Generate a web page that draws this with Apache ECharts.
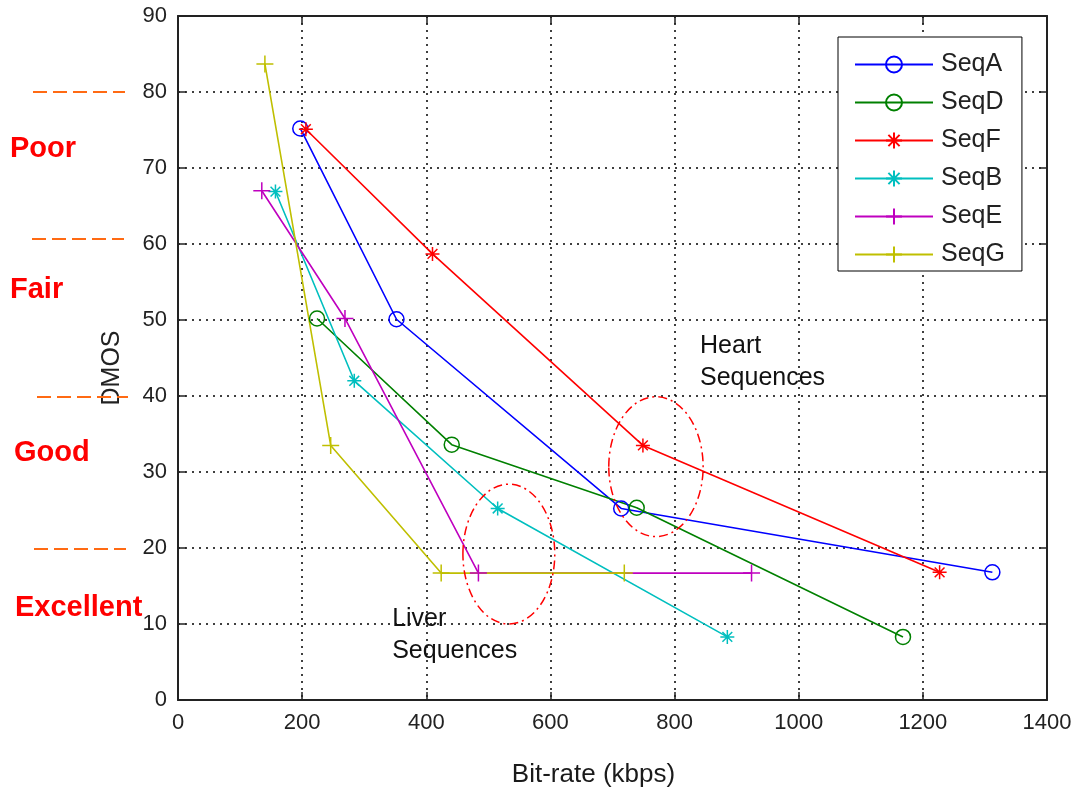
<!DOCTYPE html>
<html><head><meta charset="utf-8">
<script src="https://cdn.jsdelivr.net/npm/echarts@6/dist/echarts.min.js"></script>
<style>html,body{margin:0;padding:0;background:#fff}#c{width:1074px;height:793px}</style>
</head><body><div id="c"></div>
<script>
// ---- data ----
const seriesNames = ['SeqA','SeqD','SeqF','SeqB','SeqE','SeqG'];
const seqA = [[197,75.2],[352,50.1],[714,25.2],[1312,16.8]];
const seqD = [[224,50.2],[441,33.6],[739,25.3],[1168,8.3]];
const seqF = [[206,75.1],[410,58.7],[749,33.5],[1227,16.8]];
const seqB = [[157,66.9],[284,42.0],[515,25.2],[885,8.3]];
const seqE = [[135,67.0],[269,50.2],[484,16.7],[924,16.7]];
const seqG = [[140,83.7],[246,33.5],[424,16.7],[719,16.7]];
const xRange = [0, 1400, 200];
const yRange = [0, 90, 10];
const qualityBounds = [80, 60, 40, 20];
const qualityLabels = ['Poor', 'Fair', 'Good', 'Excellent'];
const qualityLabelY = [72.55, 53.95, 32.55, 12.15];
const ellipses = [[770, 30.7, 76, 9.2], [533, 19.2, 74, 9.2]]; // cx, cy, rx, ry (data units)
const notes = [[841, 46.5, 'Heart'], [841, 42.3, 'Sequences'], [345, 10.6, 'Liver'], [345, 6.4, 'Sequences']];

// ---- styles ----
const colors = ['#0000ff','#008000','#ff0000','#00bfbf','#bf00bf','#bfbf00'];
const PLUS = 'path://M0,-1L0,1M-1,0L1,0';
const STAR = 'path://M0,-1L0,1M-1,0L1,0M-0.7,-0.7L0.7,0.7M-0.7,0.7L0.7,-0.7';
const markers = [
  {symbol:'circle', size:15},
  {symbol:'circle', size:15},
  {symbol:STAR, size:14},
  {symbol:STAR, size:14},
  {symbol:PLUS, size:17},
  {symbol:PLUS, size:17}
];
const allData = [seqA, seqD, seqF, seqB, seqE, seqG];
const FONT = 'Arial, "Liberation Sans", sans-serif';

const lineSeries = allData.map((d, i) => ({
  name: seriesNames[i],
  type: 'line',
  data: d,
  symbol: markers[i].symbol,
  symbolSize: markers[i].size,
  showAllSymbol: true,
  lineStyle: {color: colors[i], width: 1.6},
  itemStyle: {
    color: markers[i].symbol === 'circle' ? 'rgba(255,255,255,0)' : colors[i],
    borderColor: colors[i], borderWidth: 1.5
  },
  emphasis: {disabled: true},
  z: 3
}));

const chart = echarts.init(document.getElementById('c'), null, {renderer: 'canvas'});

const option = {
  animation: false,
  backgroundColor: '#fff',
  grid: {left: 178, right: 27, top: 16, bottom: 93, containLabel: false, outerBoundsMode: 'none'},
  legend: {
    data: seriesNames,
    orient: 'vertical',
    left: 838, top: 37,
    padding: [15, 17, 4, 16],
    itemWidth: 78, itemHeight: 20, itemGap: 13,
    backgroundColor: '#fff',
    borderColor: '#000', borderWidth: 1, borderRadius: 0,
    textStyle: {fontFamily: FONT, fontSize: 25, color: '#222', padding: [0,0,0,3]},
    selectedMode: false
  },
  xAxis: [{
    type: 'value', min: xRange[0], max: xRange[1], interval: xRange[2],
    name: 'Bit-rate (kbps)', nameLocation: 'middle', nameGap: 62,
    nameTextStyle: {fontFamily: FONT, fontSize: 26, color: '#1a1a1a', padding: [0, 38, 0, 0]},
    axisLine: {show: true, onZero: false, lineStyle: {color: '#222', width: 2}},
    axisTick: {show: true, inside: true, length: 8, lineStyle: {color: '#222', width: 1.5}},
    axisLabel: {fontFamily: FONT, fontSize: 22, color: '#222', margin: 12, formatter: v => String(v)},
    splitLine: {show: true, lineStyle: {color: '#000', type: [2, 5], width: 1.5}}
  }, {
    type: 'value', position: 'top', min: xRange[0], max: xRange[1], interval: xRange[2],
    axisLine: {show: true, onZero: false, lineStyle: {color: '#222', width: 2}},
    axisTick: {show: true, inside: true, length: 8, lineStyle: {color: '#222', width: 1.5}},
    axisLabel: {show: false}, splitLine: {show: false}
  }],
  yAxis: [{
    type: 'value', min: yRange[0], max: yRange[1], interval: yRange[2],
    name: 'DMOS', nameLocation: 'middle', nameGap: 53, nameRotate: 90,
    nameTextStyle: {fontFamily: FONT, fontSize: 25, color: '#222', padding: [0, 20, 0, 0]},
    axisLine: {show: true, onZero: false, lineStyle: {color: '#222', width: 2}},
    axisTick: {show: true, inside: true, length: 8, lineStyle: {color: '#222', width: 1.5}},
    axisLabel: {fontFamily: FONT, fontSize: 22, color: '#222', margin: 11},
    splitLine: {show: true, lineStyle: {color: '#000', type: [2, 5], width: 1.5}}
  }, {
    type: 'value', position: 'right', min: yRange[0], max: yRange[1], interval: yRange[2],
    axisLine: {show: true, onZero: false, lineStyle: {color: '#222', width: 2}},
    axisTick: {show: true, inside: true, length: 8, lineStyle: {color: '#222', width: 1.5}},
    axisLabel: {show: false}, splitLine: {show: false}
  }],
  series: [
    {
      type: 'custom', name: 'ellipses', data: ellipses, clip: false, z: 4, silent: true,
      renderItem: (params, api) => {
        const c = api.coord([api.value(0), api.value(1)]);
        const s = api.size([api.value(2), api.value(3)]);
        return {type: 'ellipse', shape: {cx: c[0], cy: c[1], rx: s[0], ry: s[1]},
          style: {fill: 'none', stroke: '#ff0000', lineWidth: 1.5, lineDash: [9, 4, 2, 4]}};
      }
    },
    {
      type: 'custom', name: 'notes', data: notes, clip: false, z: 4, silent: true,
      encode: {x: 0, y: 1},
      renderItem: (params, api) => {
        const c = api.coord([api.value(0), api.value(1)]);
        return {type: 'text', x: c[0], y: c[1],
          style: {text: notes[params.dataIndex][2], fill: '#111', font: '25px ' + FONT,
            align: 'left', verticalAlign: 'middle'}};
      }
    },
    {
      type: 'custom', name: 'qbounds', data: qualityBounds.map(v => [0, v]), clip: false, z: 4, silent: true,
      renderItem: (params, api) => {
        const c = api.coord([api.value(0), api.value(1)]);
        const dy = [0, -5, 1, 1][params.dataIndex];
        const x1 = [145, 146, 141, 144][params.dataIndex];
        const x2 = [53, 54, 50, 52][params.dataIndex];
        return {type: 'line', shape: {x1: c[0] - x1, y1: c[1] + dy, x2: c[0] - x2, y2: c[1] + dy},
          style: {stroke: '#ff6a13', lineWidth: 2, lineDash: [14, 6]}};
      }
    },
    {
      type: 'custom', name: 'qlabels', data: qualityLabelY.map(v => [0, v]), clip: false, z: 4, silent: true,
      renderItem: (params, api) => {
        const c = api.coord([api.value(0), api.value(1)]);
        const off = [168, 168, 164, 163][params.dataIndex];
        return {type: 'text', x: c[0] - off, y: c[1],
          style: {text: qualityLabels[params.dataIndex], fill: '#ff0000',
            font: 'bold 29px ' + FONT, align: 'left', verticalAlign: 'middle'}};
      }
    }
  ].concat(lineSeries)
};
chart.setOption(option);
</script>
</body></html>
